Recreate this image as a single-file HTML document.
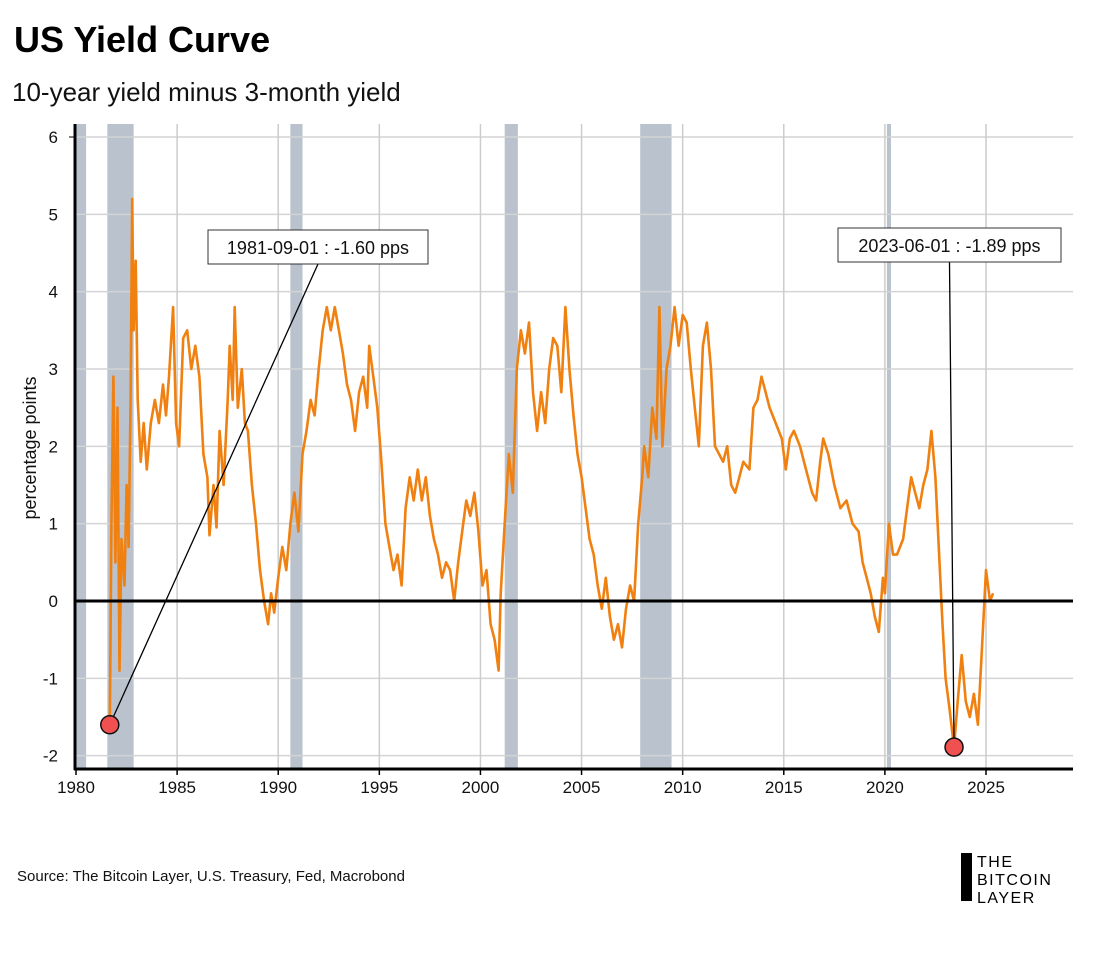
<!DOCTYPE html>
<html><head><meta charset="utf-8"><style>
body{margin:0;background:#fff;width:1100px;height:953px;overflow:hidden;font-family:"Liberation Sans",sans-serif}
</style></head><body>
<svg width="1100" height="953" xmlns="http://www.w3.org/2000/svg">
<text x="14" y="52" font-size="36" font-weight="bold" fill="#000">US Yield Curve</text>
<text x="12" y="101" font-size="26" fill="#111">10-year yield minus 3-month yield</text>
<g id="rec"></g>
<g id="grid"></g>
<g id="ticks"></g>
<text transform="translate(36,448) rotate(-90)" text-anchor="middle" font-size="18" fill="#111">percentage points</text>
<path id="series" fill="none" stroke="#f08010" stroke-width="2.6" stroke-linejoin="round"/>
<g id="ann"></g>
<text x="17" y="881" font-size="15" fill="#111">Source: The Bitcoin Layer, U.S. Treasury, Fed, Macrobond</text>
<g>
<rect x="961" y="853" width="11" height="48" fill="#000"/>
<text x="977" y="867" font-size="16" letter-spacing="1.5" fill="#000">THE</text>
<text x="977" y="885" font-size="16" letter-spacing="1.5" fill="#000">BITCOIN</text>
<text x="977" y="903" font-size="16" letter-spacing="1.5" fill="#000">LAYER</text>
</g>
</svg>
<script>
const recessions=[[1980.0,1980.5],[1981.55,1982.85],[1990.6,1991.2],[2001.2,2001.85],[2007.9,2009.45],[2020.1,2020.3]];
const yTicks=[-2,-1,0,1,2,3,4,5,6];
const xTicks=[1980,1985,1990,1995,2000,2005,2010,2015,2020,2025];
const years=[1981.67,1981.75,1981.85,1981.95,1982.05,1982.15,1982.25,1982.4,1982.5,1982.6,1982.7,1982.78,1982.85,1982.95,1983.05,1983.2,1983.35,1983.5,1983.7,1983.9,1984.1,1984.3,1984.45,1984.6,1984.8,1984.95,1985.1,1985.3,1985.5,1985.7,1985.9,1986.1,1986.3,1986.5,1986.6,1986.8,1986.95,1987.1,1987.3,1987.5,1987.6,1987.75,1987.85,1988.0,1988.2,1988.35,1988.5,1988.7,1988.9,1989.1,1989.3,1989.5,1989.65,1989.8,1990.0,1990.2,1990.4,1990.6,1990.8,1991.0,1991.2,1991.4,1991.6,1991.8,1992.0,1992.2,1992.4,1992.6,1992.8,1993.0,1993.2,1993.4,1993.6,1993.8,1994.0,1994.2,1994.4,1994.5,1994.7,1994.9,1995.1,1995.3,1995.5,1995.7,1995.9,1996.1,1996.3,1996.5,1996.7,1996.9,1997.1,1997.3,1997.5,1997.7,1997.9,1998.1,1998.3,1998.5,1998.7,1998.9,1999.1,1999.3,1999.5,1999.7,1999.9,2000.1,2000.3,2000.5,2000.7,2000.9,2001.0,2001.2,2001.4,2001.6,2001.8,2002.0,2002.2,2002.4,2002.6,2002.8,2003.0,2003.2,2003.4,2003.6,2003.8,2004.0,2004.2,2004.4,2004.6,2004.8,2005.0,2005.2,2005.4,2005.6,2005.8,2006.0,2006.2,2006.4,2006.6,2006.8,2007.0,2007.2,2007.4,2007.6,2007.8,2008.0,2008.1,2008.3,2008.5,2008.7,2008.85,2009.0,2009.2,2009.4,2009.6,2009.8,2010.0,2010.2,2010.4,2010.6,2010.8,2011.0,2011.2,2011.4,2011.6,2011.8,2012.0,2012.2,2012.4,2012.6,2012.8,2013.0,2013.3,2013.5,2013.7,2013.9,2014.1,2014.3,2014.6,2014.9,2015.1,2015.3,2015.5,2015.8,2016.1,2016.4,2016.6,2016.8,2016.95,2017.2,2017.5,2017.8,2018.1,2018.4,2018.7,2018.9,2019.1,2019.3,2019.5,2019.7,2019.9,2020.0,2020.2,2020.4,2020.6,2020.9,2021.1,2021.3,2021.5,2021.7,2021.9,2022.1,2022.3,2022.5,2022.7,2022.85,2023.0,2023.2,2023.42,2023.6,2023.8,2024.0,2024.2,2024.4,2024.6,2024.8,2025.0,2025.2,2025.35];
const spread=[-1.6,1.0,2.9,0.5,2.5,-0.9,0.8,0.2,1.5,0.7,2.6,5.2,3.5,4.4,2.6,1.8,2.3,1.7,2.3,2.6,2.3,2.8,2.4,2.9,3.8,2.3,2.0,3.4,3.5,3.0,3.3,2.9,1.9,1.6,0.85,1.5,0.95,2.2,1.5,2.6,3.3,2.6,3.8,2.5,3.0,2.3,2.2,1.5,1.0,0.4,0.0,-0.3,0.1,-0.15,0.3,0.7,0.4,1.0,1.4,0.9,1.9,2.2,2.6,2.4,3.0,3.5,3.8,3.5,3.8,3.5,3.2,2.8,2.6,2.2,2.7,2.9,2.5,3.3,2.9,2.5,1.8,1.0,0.7,0.4,0.6,0.2,1.2,1.6,1.3,1.7,1.3,1.6,1.1,0.8,0.6,0.3,0.5,0.4,0.0,0.5,0.9,1.3,1.1,1.4,0.9,0.2,0.4,-0.3,-0.5,-0.9,0.1,1.0,1.9,1.4,3.0,3.5,3.2,3.6,2.7,2.2,2.7,2.3,3.0,3.4,3.3,2.7,3.8,3.0,2.4,1.9,1.6,1.2,0.8,0.6,0.2,-0.1,0.3,-0.2,-0.5,-0.3,-0.6,-0.1,0.2,0.0,1.0,1.6,2.0,1.6,2.5,2.1,3.8,2.0,3.0,3.3,3.8,3.3,3.7,3.6,3.0,2.5,2.0,3.3,3.6,3.0,2.0,1.9,1.8,2.0,1.5,1.4,1.6,1.8,1.7,2.5,2.6,2.9,2.7,2.5,2.3,2.1,1.7,2.1,2.2,2.0,1.7,1.4,1.3,1.8,2.1,1.9,1.5,1.2,1.3,1.0,0.9,0.5,0.3,0.1,-0.2,-0.4,0.3,0.1,1.0,0.6,0.6,0.8,1.2,1.6,1.4,1.2,1.5,1.7,2.2,1.6,0.5,-0.3,-1.0,-1.4,-1.89,-1.3,-0.7,-1.3,-1.5,-1.2,-1.6,-0.6,0.4,0.0,0.1];
const annDates=["1981-09-01","2023-06-01"];
const annValues=[-1.60,-1.89];
const annYears=[1981.67,2023.42];
const X0=76,PXY=(986-76)/45,Y0=601,PXV=(601-137)/6,L=75,R=1073,T=124,B=769;
const x=y=>X0+(y-1980)*PXY, yv=v=>Y0-v*PXV;
const NS="http://www.w3.org/2000/svg";
function mk(t,a,p){const e=document.createElementNS(NS,t);for(const k in a)e.setAttribute(k,a[k]);p.appendChild(e);return e;}
const rec=document.getElementById('rec'),grid=document.getElementById('grid'),ticks=document.getElementById('ticks'),ann=document.getElementById('ann');
recessions.forEach(r=>{const e=mk('rect',{x:x(r[0]),y:T,width:x(r[1])-x(r[0]),height:B-T,fill:'#b9c2cd'},rec);

});
yTicks.forEach(v=>{const l=mk('line',{x1:L,x2:R,y1:yv(v),y2:yv(v),stroke:v===0?'#000':'#d4d4d4','stroke-width':v===0?3:1.5},v===0?ann:grid);


const t=mk('text',{x:58,y:yv(v)+6,'text-anchor':'end','font-size':17,fill:'#111'},ticks);t.textContent=v;

});
xTicks.forEach(yr=>{if(yr>1980){const l=mk('line',{x1:x(yr),x2:x(yr),y1:T,y2:B,stroke:'#cccccc','stroke-width':1.5},grid);

}
mk('line',{x1:x(yr),x2:x(yr),y1:B,y2:B+6,stroke:'#000','stroke-width':1.5},ticks);
const t=mk('text',{x:x(yr),y:B+24,'text-anchor':'middle','font-size':17,fill:'#111'},ticks);t.textContent=yr;

});
mk('line',{x1:L,x2:L,y1:T,y2:B+1,stroke:'#000','stroke-width':3},ticks);
mk('line',{x1:L-1,x2:R,y1:B,y2:B,stroke:'#000','stroke-width':3},ticks);
mk('line',{x1:L-6,x2:L,y1:yv(6),y2:yv(6),stroke:'#000'},ticks);
document.getElementById('series').setAttribute('d',years.map((yr,i)=>(i?'L':'M')+x(yr).toFixed(1)+','+yv(spread[i]).toFixed(1)).join(''));
const boxes=[[208,230,220],[838,228,223]];
annYears.forEach((yr,i)=>{const b=boxes[i];
mk('line',{x1:b[0]+b[2]/2,y1:b[1]+34,x2:x(yr),y2:yv(annValues[i]),stroke:'#000','stroke-width':1.3},ann);
const r=mk('rect',{x:b[0],y:b[1],width:b[2],height:34,fill:'#fff',stroke:'#333'},ann);


const t=mk('text',{x:b[0]+b[2]/2,y:b[1]+24,'text-anchor':'middle','font-size':18,fill:'#111'},ann);
t.textContent=annDates[i]+' : '+annValues[i].toFixed(2)+' pps';


const c=mk('circle',{cx:x(yr),cy:yv(annValues[i]),r:9,fill:'#f05050',stroke:'#111','stroke-width':1.5},ann);

});
</script>
</body></html>
